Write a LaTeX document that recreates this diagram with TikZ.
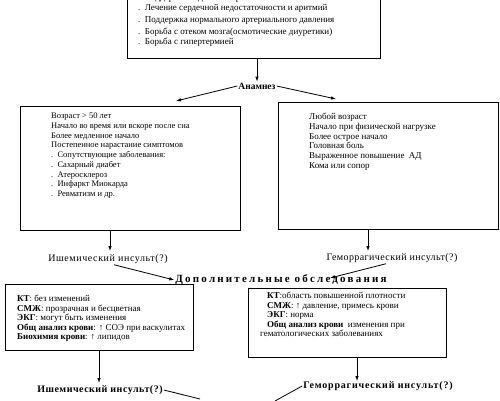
\documentclass[tikz,border=0pt]{standalone}
\usepackage{fontspec}
\setmainfont{Liberation Serif}
\usetikzlibrary{arrows.meta}
\begin{document}
\begin{tikzpicture}[x=1pt,y=-1pt,
  box/.style={draw, line width=0.9pt, inner sep=0, anchor=north west},
  txt/.style={anchor=north west, align=left, inner sep=0},
  boxfont/.style={font=\fontsize{9}{9.7}\selectfont},
  topfont/.style={font=\fontsize{9}{10}\selectfont},
  lbl/.style={inner sep=1pt, font=\fontsize{10}{12}\selectfont\addfontfeature{LetterSpace=6}},
  head/.style={inner sep=1pt, font=\fontsize{10}{12}\selectfont\bfseries},
  arr/.style={-{Latex[length=5pt,width=3.5pt]}, line width=0.8pt},
  ln/.style={line width=0.8pt}
]
\useasboundingbox (0,0) rectangle (500,400);
\fill[white] (0,0) rectangle (500,400);

% top box
\node[box, minimum width=253, minimum height=82] (top) at (127,-24) {};
\node[txt, topfont] (toptext) at (138,-6) {.\ \ Поддержка водно-электролитного баланса\\[-0.5pt]
.\ \ Лечение сердечной недостаточности и аритмий\\[2.5pt]
.\ \ Поддержка нормального артериального давления\\[1.5pt]
.\ \ Борьба с отеком мозга(осмотические диуретики)\\
.\ \ Борьба с гипертермией};

% anamnesis
\node[head, font=\fontsize{9.5}{11}\selectfont\bfseries] (anam) at (257,86) {Анамнез};
\draw[arr] (anam.north |- top.south) -- (anam.north);
\coordinate (la) at (176,101);
\coordinate (ra) at (336,99);
\draw[arr] (anam.west) -- (la);
\draw[arr] (anam.east) -- (ra);

% left box
\node[box, minimum width=220, minimum height=124] (lbox) at (20,106) {};
\node[txt, font=\fontsize{8.5}{9.7}\selectfont] (ltext) at (51,113) {Возраст > 50 лет\\
Начало во время или вскоре после сна\\
Более медленное начало\\
Постепенное нарастание симптомов\\
.\ \ Сопутствующие заболевания:\\
.\ \ Сахарный диабет\\
.\ \ Атеросклероз\\
.\ \ Инфаркт Миокарда\\
.\ \ Ревматизм и др.};

% right box
\node[box, minimum width=220, minimum height=127] (rbox) at (278,102) {};
\node[txt, boxfont] (rtext) at (309,113) {Любой возраст\\
Начало при физической нагрузке\\
Более острое начало\\
Головная боль\\
Выраженное повышение\ \ АД\\
Кома или сопор};

% first diagnoses
\node[lbl] (isch1) at (108,259) {Ишемический инсульт(?)};
\node[lbl, font=\fontsize{10}{12}\selectfont\addfontfeature{LetterSpace=4}] (gem1) at (392,258) {Геморрагический инсульт(?)};
\coordinate (i1top) at (110,251);
\coordinate (g1top) at (368,251);
\draw[arr] (lbox.south -| i1top) -- (i1top);
\draw[arr] (rbox.south -| g1top) -- (g1top);

% additional examinations
\node[head, font=\fontsize{11}{12}\selectfont\bfseries\addfontfeature{LetterSpace=20}] (dop) at (281,280) {Дополнительные обследования};
\coordinate (dopR) at (330,278);
\draw[arr] ([xshift=6pt]isch1.south) -- (dop.west);
\draw[arr] ([xshift=-6pt]gem1.south) -- (dopR);

% bottom-left box
\node[box, minimum width=188, minimum height=66] (blbox) at (5,284) {};
\node[txt, font=\fontsize{9}{9.5}\selectfont] (bltext) at (17,295) {\textbf{КТ}: без изменений\\
\textbf{СМЖ}: прозрачная и бесцветная\\
\textbf{ЭКГ}: могут быть изменения\\
\textbf{Общ анализ крови}: ↑ СОЭ при васкулитах\\
\textbf{Биохимия крови}: ↑ липидов};

% bottom-right box
\node[box, minimum width=198, minimum height=69] (brbox) at (248,288) {};
\node[txt, font=\fontsize{9}{9.5}\selectfont] (brtext) at (267,292) {\textbf{КТ}:область повышенной плотности\\
\textbf{СМЖ}: ↑ давление, примесь крови\\
\textbf{ЭКГ}: норма\\
\textbf{Общ анализ крови}\ \ изменения при\\
\hspace*{-7pt}гематологических заболеваниях};

% final diagnoses
\node[head, font=\fontsize{10}{12}\selectfont\bfseries\addfontfeature{LetterSpace=5}] (isch2) at (100,390) {Ишемический инсульт(?)};
\node[head, font=\fontsize{10}{12}\selectfont\bfseries\addfontfeature{LetterSpace=8}] (gem2) at (378,386) {Геморрагический инсульт(?)};
\coordinate (i2top) at (99,383);
\coordinate (g2top) at (357,381);
\draw[arr] (blbox.south -| i2top) -- (i2top);
\draw[arr] (brbox.south -| g2top) -- (g2top);
\coordinate (c1) at (200,399);
\coordinate (c2) at (275,401);
\draw[ln] (isch2.east) -- (c1);
\draw[ln] (gem2.west) -- (c2);
\end{tikzpicture}
\end{document}
